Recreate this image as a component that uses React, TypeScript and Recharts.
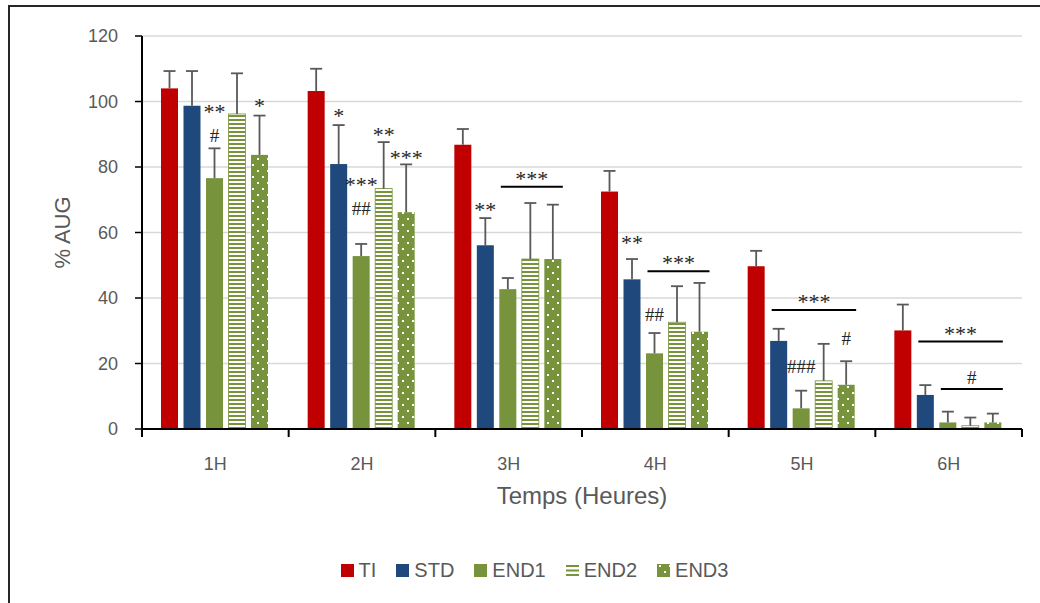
import React from 'react';
import { BarChart, Bar, XAxis, YAxis, CartesianGrid, Legend } from 'recharts';

const categories = ['1H', '2H', '3H', '4H', '5H', '6H'];
const seriesNames = ['TI', 'STD', 'END1', 'END2', 'END3'];

const TI = [104, 103.2, 86.8, 72.5, 49.7, 30.1];
const TI_err = [5.3, 6.8, 4.8, 6.3, 4.7, 7.9];
const STD = [98.7, 80.9, 56.1, 45.7, 26.9, 10.4];
const STD_err = [10.6, 11.9, 8.3, 6.2, 3.7, 3.0];
const END1 = [76.6, 52.8, 42.7, 23.1, 6.3, 2.0];
const END1_err = [9.1, 3.7, 3.4, 6.2, 5.4, 3.3];
const END2 = [96.2, 73.4, 51.9, 32.6, 14.7, 1.0];
const END2_err = [12.4, 14.2, 17.1, 11.0, 11.3, 2.5];
const END3 = [83.7, 66.2, 51.9, 29.7, 13.5, 2.0];
const END3_err = [12.0, 14.6, 16.6, 14.9, 7.2, 2.7];

const yTicks = [0, 20, 40, 60, 80, 100, 120];

// significance marks above single bars (level = vertical centre of the text, in % AUG)
const marks = [
  { cat: '1H', series: 'END1', text: '**', level: 98 },
  { cat: '1H', series: 'END1', text: '#', level: 89.5 },
  { cat: '1H', series: 'END3', text: '*', level: 100 },
  { cat: '2H', series: 'STD', text: '*', level: 96.9 },
  { cat: '2H', series: 'END2', text: '**', level: 91 },
  { cat: '2H', series: 'END1', text: '***', level: 75.8 },
  { cat: '2H', series: 'END1', text: '##', level: 67.3 },
  { cat: '2H', series: 'END3', text: '***', level: 84 },
  { cat: '3H', series: 'STD', text: '**', level: 68.1 },
  { cat: '4H', series: 'STD', text: '**', level: 58 },
  { cat: '4H', series: 'END1', text: '##', level: 35.1 },
  { cat: '5H', series: 'END1', text: '###', level: 19.2 },
  { cat: '5H', series: 'END3', text: '#', level: 27.5 },
];

// significance brackets spanning several bars (level = line height, in % AUG)
const brackets = [
  { cat: '3H', from: 'END1', to: 'END3', text: '***', level: 74 },
  { cat: '4H', from: 'END1', to: 'END3', text: '***', level: 48.2 },
  { cat: '5H', from: 'STD', to: 'END3', text: '***', level: 36.3 },
  { cat: '6H', from: 'STD', to: 'END3', text: '***', level: 26.7 },
  { cat: '6H', from: 'END1', to: 'END3', text: '#', level: 12.2 },
];

const values: Record<string, number[]> = { TI, STD, END1, END2, END3 };
const errors: Record<string, number[]> = { TI: TI_err, STD: STD_err, END1: END1_err, END2: END2_err, END3: END3_err };

const data = categories.map((c, i) => ({
  cat: c,
  TI: TI[i],
  STD: STD[i],
  END1: END1[i],
  END2: END2[i],
  END3: END3[i],
}));

const COLORS: Record<string, string> = {
  TI: '#C00000',
  STD: '#1F497D',
  END1: '#77933C',
  END2: 'url(#p-end2)',
  END3: 'url(#p-end3)',
};

const GREEN = '#77933C';
const BAR_GAP = 5.5;
const SERIF = '"Liberation Serif", "DejaVu Serif", serif';
const SANS = '"Liberation Sans", Arial, sans-serif';
const STAR_FS = 22;
const HASH_FS = 19;

function markText(text: string, cx: number, cy: number, key: string) {
  const isStar = text.indexOf('*') >= 0;
  const fs = isStar ? STAR_FS : HASH_FS;
  const baseline = cy + (isStar ? 0.5 : 0.34) * fs;
  return (
    <text key={key} x={cx} y={baseline} textAnchor="middle" fontFamily={SERIF} fontSize={fs} fill="#262626">
      {text}
    </text>
  );
}

function makeShape(key: string) {
  return (props: any) => {
    const { x, y, width, height } = props;
    let idx = props.payload ? categories.indexOf(props.payload.cat) : -1;
    if (idx < 0) idx = props.index ?? 0;
    const v = values[key][idx];
    const ppu = v > 0 ? height / v : 0;
    const base = y + height;
    const cx = x + width / 2;
    const errTop = y - errors[key][idx] * ppu;
    const cat = categories[idx];
    const sIdx = seriesNames.indexOf(key);
    const toY = (level: number) => base - level * ppu;

    const myMarks = marks.filter((m) => m.cat === cat && m.series === key);
    const myBrackets = brackets.filter((b) => b.cat === cat && b.from === key);

    return (
      <g>
        <rect
          x={x}
          y={y}
          width={width}
          height={height}
          fill={COLORS[key]}
          stroke={key === 'END2' ? GREEN : 'none'}
          strokeWidth={key === 'END2' ? 0.8 : 0}
        />
        <line x1={cx} y1={y} x2={cx} y2={errTop} stroke="#595959" strokeWidth={1.8} />
        <line x1={cx - 6} y1={errTop} x2={cx + 6} y2={errTop} stroke="#595959" strokeWidth={1.8} />
        {myMarks.map((m, i) => markText(m.text, cx, toY(m.level), 'm' + i))}
        {myBrackets.map((b, i) => {
          const n = seriesNames.indexOf(b.to) - sIdx + 1;
          const x1 = x + 1.5;
          const x2 = x + n * width + (n - 1) * BAR_GAP + 1.5;
          const ly = toY(b.level);
          return (
            <g key={'b' + i}>
              <line x1={x1} y1={ly} x2={x2} y2={ly} stroke="#000" strokeWidth={2} />
              {markText(b.text, (x1 + x2) / 2, ly - 12, 'bt' + i)}
            </g>
          );
        })}
      </g>
    );
  };
}

const XTick = (props: any) => {
  const { x, y, payload, index } = props;
  const half = payload && typeof payload.offset === 'number' && payload.offset > 0 ? payload.offset : 880 / 12;
  return (
    <g>
      <line x1={x - half} y1={y} x2={x - half} y2={y + 8} stroke="#000" strokeWidth={2} />
      {index === categories.length - 1 && (
        <line x1={x + half} y1={y} x2={x + half} y2={y + 8} stroke="#000" strokeWidth={2} />
      )}
      <text x={x} y={y + 35} dy="0.35em" textAnchor="middle" fontFamily={SANS} fontSize={18} fill="#595959">
        {payload.value}
      </text>
    </g>
  );
};

const legendItems = [
  { name: 'TI', fill: '#C00000' },
  { name: 'STD', fill: '#1F497D' },
  { name: 'END1', fill: GREEN },
  { name: 'END2', fill: 'url(#p-end2)' },
  { name: 'END3', fill: 'url(#p-end3)' },
];

const LegendContent = () => (
  <div
    style={{
      display: 'flex',
      justifyContent: 'center',
      alignItems: 'center',
      height: 24,
      paddingRight: 35,
      fontFamily: SANS,
      fontSize: 20,
      color: '#595959',
    }}
  >
    {legendItems.map((it, i) => (
      <div
        key={it.name}
        style={{ display: 'flex', alignItems: 'center', marginRight: i === legendItems.length - 1 ? 0 : 20 }}
      >
        <svg width={13} height={13} style={{ marginRight: 5 }}>
          {it.name === 'END2' ? (
            <g>
              <rect x={0} y={0} width={13} height={13} fill="#fff" />
              <rect x={0} y={1} width={13} height={2} fill={GREEN} />
              <rect x={0} y={5.5} width={13} height={2} fill={GREEN} />
              <rect x={0} y={10} width={13} height={2} fill={GREEN} />
            </g>
          ) : (
            <rect x={0} y={0} width={13} height={13} fill={it.fill} />
          )}
        </svg>
        <span>{it.name}</span>
      </div>
    ))}
  </div>
);

export default function App() {
  return (
    <div>
      <svg width={0} height={0} style={{ position: 'absolute' }}>
        <defs>
          <pattern id="p-end2" patternUnits="userSpaceOnUse" width={4} height={4}>
            <rect x={0} y={0} width={4} height={4} fill="#ffffff" />
            <rect x={0} y={0} width={4} height={2} fill={GREEN} />
          </pattern>
          <pattern id="p-end3" patternUnits="userSpaceOnUse" width={10} height={12}>
            <rect x={0} y={0} width={10} height={12} fill={GREEN} />
            <rect x={2} y={1} width={2} height={2} fill="#ffffff" />
            <rect x={7} y={7} width={2} height={2} fill="#ffffff" />
          </pattern>
        </defs>
      </svg>
      <div
        style={{
          position: 'absolute',
          left: 8,
          top: 5,
          width: 1030,
          height: 596,
          borderTop: '2px solid #262626',
          borderLeft: '2px solid #262626',
          background: '#fff',
        }}
      >
        <BarChart
          width={1030}
          height={596}
          data={data}
          margin={{ top: 29, right: 18, left: 72, bottom: 21 }}
          barCategoryGap={19}
          barGap={BAR_GAP}
        >
          <CartesianGrid vertical={false} stroke="#D9D9D9" strokeWidth={1.5} />
          {seriesNames.map((s) => (
            <Bar key={s} dataKey={s} fill={COLORS[s]} shape={makeShape(s)} isAnimationActive={false} />
          ))}
          <XAxis
            dataKey="cat"
            height={129}
            axisLine={{ stroke: '#000', strokeWidth: 2 }}
            tickLine={false}
            tickSize={0}
            tickMargin={0}
            tick={<XTick />}
            interval={0}
            label={({ viewBox }: any) => (
              <text
                x={viewBox.x + viewBox.width / 2}
                y={viewBox.y + 67}
                dy="0.35em"
                textAnchor="middle"
                fontFamily={SANS}
                fontSize={24}
                fill="#595959"
              >
                Temps (Heures)
              </text>
            )}
          />
          <YAxis
            width={60}
            domain={[0, 120]}
            ticks={yTicks}
            interval={0}
            axisLine={{ stroke: '#000', strokeWidth: 2 }}
            tickLine={{ stroke: '#000', strokeWidth: 1.5 }}
            tickSize={7}
            tickMargin={17}
            tick={{ fontFamily: SANS, fontSize: 18, fill: '#595959' }}
            label={({ viewBox }: any) => (
              <text
                x={viewBox.x - 20}
                y={viewBox.y + viewBox.height / 2}
                dy="0.35em"
                textAnchor="middle"
                fontFamily={SANS}
                fontSize={22}
                fill="#595959"
                transform={`rotate(-90, ${viewBox.x - 20}, ${viewBox.y + viewBox.height / 2})`}
              >
                % AUG
              </text>
            )}
          />
          <Legend verticalAlign="bottom" height={24} content={<LegendContent />} />
        </BarChart>
      </div>
    </div>
  );
}
